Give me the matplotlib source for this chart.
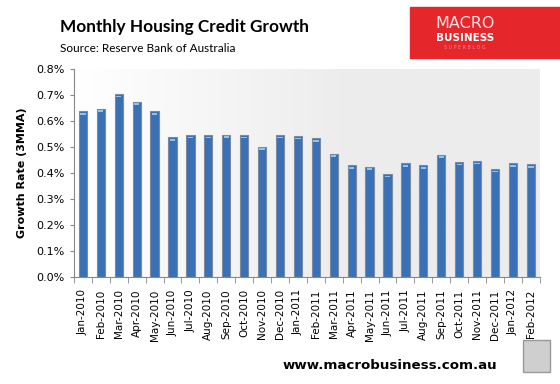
import matplotlib
matplotlib.use("Agg")
import matplotlib.pyplot as plt
import numpy as np
from matplotlib.patches import Rectangle
from matplotlib.ticker import FuncFormatter, MultipleLocator

months = ['Jan-2010', 'Feb-2010', 'Mar-2010', 'Apr-2010', 'May-2010', 'Jun-2010',
          'Jul-2010', 'Aug-2010', 'Sep-2010', 'Oct-2010', 'Nov-2010', 'Dec-2010',
          'Jan-2011', 'Feb-2011', 'Mar-2011', 'Apr-2011', 'May-2011', 'Jun-2011',
          'Jul-2011', 'Aug-2011', 'Sep-2011', 'Oct-2011', 'Nov-2011', 'Dec-2011',
          'Jan-2012', 'Feb-2012']
growth = [0.637, 0.648, 0.704, 0.675, 0.637, 0.537, 0.545, 0.545, 0.548, 0.545,
          0.502, 0.545, 0.541, 0.533, 0.475, 0.429, 0.425, 0.395, 0.437, 0.429,
          0.471, 0.441, 0.445, 0.414, 0.437, 0.433]

fig = plt.figure(figsize=(5.6, 3.84), dpi=100)
ax = fig.add_axes([0.132, 0.279, 0.832, 0.541])

x = np.arange(len(months))
ax.set_xlim(-0.5, len(months) - 0.5)
ax.set_ylim(0, 0.8)

# gradient plot background
grad = np.linspace(0, 1, 256).reshape(1, -1)
ax.imshow(grad, extent=[-0.5, len(months) - 0.5, 0, 0.8], aspect='auto',
          cmap=matplotlib.colors.LinearSegmentedColormap.from_list('bg', ['#ffffff', '#ececec']),
          vmin=0, vmax=0.6, zorder=0)

ax.bar(x, growth, 0.46, color='#3a70b6', edgecolor='#7c8aa0', linewidth=0.8, zorder=2)
ax.bar(x, [0.006] * len(x), 0.3, bottom=np.array(growth) - 0.012, color='#8cc4f0', zorder=3)

ax.yaxis.set_major_locator(MultipleLocator(0.1))
ax.yaxis.set_major_formatter(FuncFormatter(lambda v, p: '%.1f%%' % v))
ax.set_xticks(x)
ax.set_xticklabels(months, rotation=90, fontsize=7.5)
ax.set_xticks(np.arange(-0.5, len(months), 1), minor=True)
ax.tick_params(axis='x', which='major', length=0, pad=9)
ax.tick_params(axis='x', which='minor', length=4, color='#888888', direction='out')
ax.tick_params(axis='y', length=3, color='#888888', labelsize=8)
for s in ['top', 'right']:
    ax.spines[s].set_visible(False)
ax.spines['left'].set_color('#888888')
ax.spines['bottom'].set_color('#888888')
ax.set_ylabel('Growth Rate (3MMA)', fontsize=8, fontweight='bold', labelpad=7)

fig.text(0.107, 0.93, 'Monthly Housing Credit Growth', fontsize=12.4, fontweight='bold',
         family='Lato', va='center')
fig.text(0.107, 0.875, 'Source: Reserve Bank of Australia', fontsize=8.5, va='center', family='Lato')

# logo
fig.patches.append(Rectangle((0.732, 0.849), 0.268, 0.133, transform=fig.transFigure,
                             color='#e5262b', zorder=1))
fig.text(0.83, 0.94, 'MACRO', color='#fde0e0', fontsize=11.5, ha='center', va='center')
fig.text(0.83, 0.9, 'BUSINESS', color='white', fontsize=7.5, fontweight='bold', ha='center', va='center')
fig.text(0.83, 0.876, 'S U P E R B L O G', color='#f08a8a', fontsize=3.5, ha='center', va='center')

fig.text(0.505, 0.048, 'www.macrobusiness.com.au', fontsize=9.6, fontweight='bold', va='center')
fig.patches.append(Rectangle((0.934, 0.03), 0.048, 0.085, transform=fig.transFigure,
                             facecolor='#cfcfcf', edgecolor='#999999', lw=1))

fig.savefig('out.png', dpi=100)
